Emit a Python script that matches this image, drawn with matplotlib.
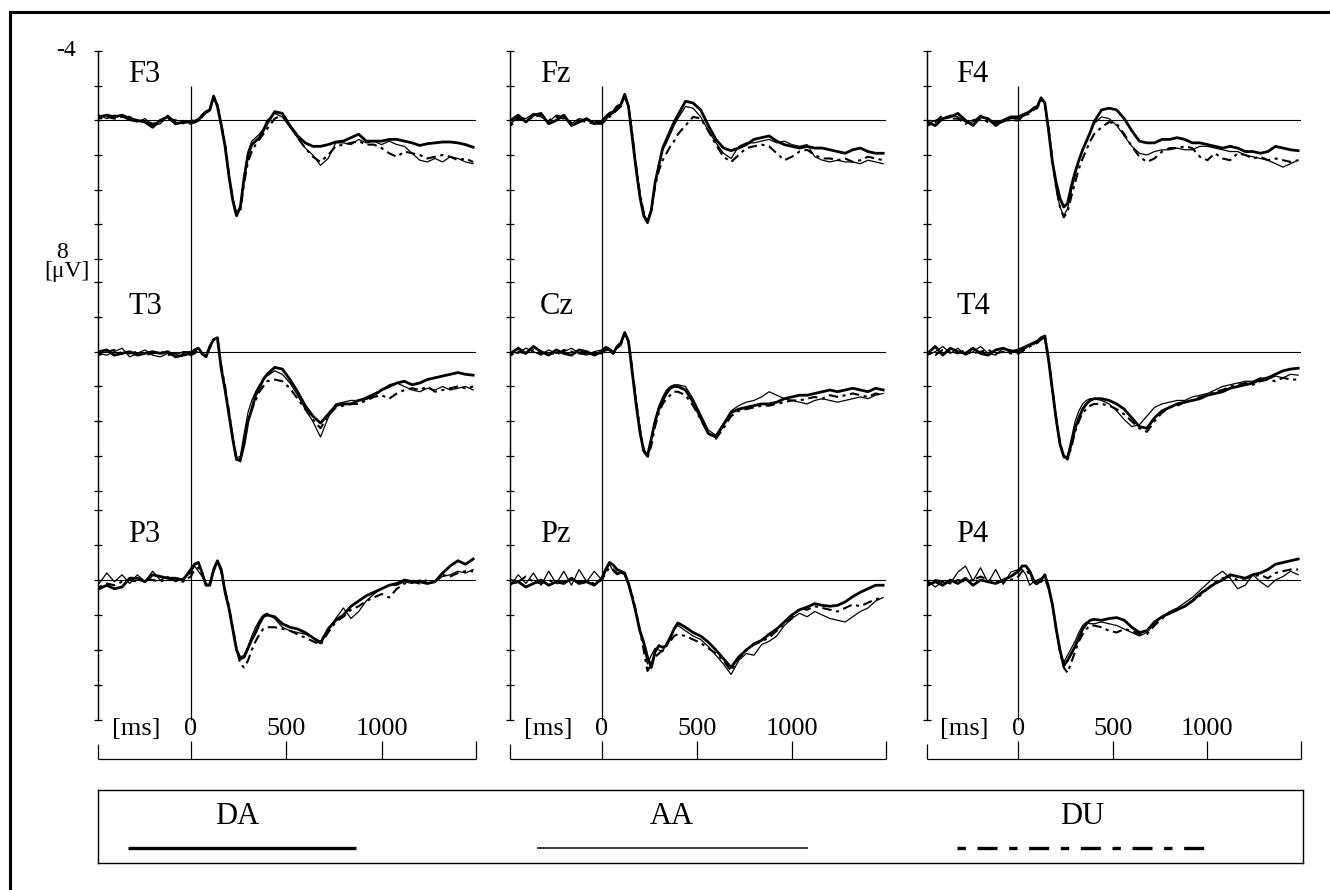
import matplotlib
matplotlib.use("Agg")
import matplotlib.pyplot as plt
from matplotlib.patches import Rectangle

plt.rcParams['font.family'] = ['Liberation Serif', 'DejaVu Serif']

# time axis of every trace [ms]
time_ms = [-480, -440, -400, -360, -320, -280, -240, -200, -160, -120, -80, -40, 0,
           20, 40, 60, 80, 100, 120, 140, 160, 180, 200, 220, 240, 260, 280, 300, 320, 340, 360, 380, 400,
           440, 480, 520, 560, 600, 640, 680, 720, 760, 800, 840, 880, 920, 960, 1000, 1040, 1080,
           1120, 1160, 1200, 1240, 1280, 1320, 1360, 1400, 1440, 1480]

# amplitudes [uV] (negative up)
f3_da = [-0.2, -0.3, -0.2, -0.3, -0.1, 0.0, 0.1, 0.4, 0.0, -0.2, 0.2, 0.1, 0.1,
         0.1, 0.0, -0.3, -0.5, -0.6, -1.4, -0.8, 0.3, 1.5, 3.2, 4.6, 5.5, 5.0, 3.3, 2.0, 1.4, 1.2, 1.0, 0.6, 0.2,
         -0.5, -0.4, 0.3, 0.9, 1.3, 1.5, 1.5, 1.4, 1.25, 1.2, 1.0, 0.8, 1.2, 1.2, 1.2, 1.1, 1.1, 1.2, 1.3, 1.45,
         1.35, 1.3, 1.25, 1.25, 1.3, 1.4, 1.55]
f3_aa = [-0.3, -0.1, -0.3, -0.2, 0.0, 0.1, -0.1, 0.3, 0.2, -0.3, 0.1, 0.2, 0.0,
         0.0, -0.1, -0.2, -0.4, -0.6, -1.3, -0.9, 0.2, 1.4, 3.1, 4.5, 5.4, 5.0, 3.2, 1.8, 1.2, 1.0, 0.8, 0.5, 0.0,
         -0.4, -0.2, 0.4, 1.0, 1.6, 2.0, 2.6, 2.2, 1.3, 1.3, 1.4, 1.1, 1.3, 1.2, 1.4, 1.2, 1.4, 1.5, 1.9, 2.3,
         2.4, 2.2, 2.4, 2.1, 2.2, 2.4, 2.5]
f3_du = [-0.1, -0.2, -0.1, -0.2, -0.2, 0.1, 0.0, 0.2, 0.1, -0.1, 0.0, 0.1, 0.2,
         0.1, 0.0, -0.2, -0.4, -0.6, -1.3, -0.9, 0.2, 1.4, 3.1, 4.5, 5.5, 5.2, 3.6, 2.4, 1.8, 1.4, 1.1, 0.8, 0.5,
         -0.1, -0.3, 0.3, 1.0, 1.6, 2.1, 2.4, 2.0, 1.5, 1.4, 1.3, 1.2, 1.4, 1.4, 1.6, 1.9, 2.1, 1.8, 1.9, 2.0,
         2.2, 2.1, 2.0, 2.1, 2.3, 2.2, 2.4]

fz_da = [0.0, -0.3, 0.1, -0.3, -0.4, 0.2, 0.0, -0.3, 0.3, 0.1, -0.1, 0.2, 0.1,
         -0.2, -0.4, -0.5, -0.8, -0.9, -1.5, -0.8, 1.0, 2.8, 4.4, 5.5, 5.9, 5.2, 3.6, 2.6, 1.6, 1.1, 0.6, 0.1, -0.3,
         -1.1, -1.0, -0.6, 0.3, 1.1, 1.6, 1.75, 1.6, 1.4, 1.1, 1.0, 0.9, 1.2, 1.4, 1.5, 1.6, 1.5, 1.6, 1.6, 1.7,
         1.8, 1.9, 1.7, 1.6, 1.8, 1.9, 1.9]
fz_aa = [0.2, -0.2, -0.1, -0.4, -0.2, 0.1, -0.3, -0.2, 0.2, -0.1, 0.0, 0.1, 0.0,
         0.0, -0.3, -0.4, -0.7, -0.9, -1.5, -0.8, 0.9, 2.7, 4.3, 5.4, 5.8, 5.1, 3.6, 2.5, 1.7, 1.3, 0.8, 0.3, -0.1,
         -0.8, -0.7, -0.2, 0.6, 1.3, 1.9, 2.2, 1.5, 1.3, 1.3, 1.2, 1.1, 1.3, 1.2, 1.4, 1.5, 1.4, 2.1, 2.3, 2.4,
         2.3, 2.4, 2.4, 2.5, 2.3, 2.4, 2.5]
fz_du = [0.3, -0.1, 0.0, -0.2, -0.3, 0.0, -0.2, -0.1, 0.1, 0.0, 0.1, 0.2, 0.2,
         0.0, -0.2, -0.4, -0.6, -0.8, -1.4, -0.8, 0.8, 2.6, 4.2, 5.3, 5.8, 5.2, 3.8, 2.9, 2.3, 1.9, 1.5, 1.2, 0.8,
         0.3, -0.2, -0.1, 0.6, 1.4, 2.1, 2.4, 2.0, 1.6, 1.5, 1.4, 1.5, 1.9, 2.3, 2.1, 1.8, 1.7, 2.0, 2.2, 2.2,
         2.3, 2.2, 2.4, 2.3, 2.1, 2.2, 2.3]

f4_da = [0.1, 0.3, -0.1, -0.2, -0.4, 0.0, 0.3, -0.2, -0.1, 0.3, 0.0, -0.2, -0.2,
         -0.3, -0.4, -0.5, -0.7, -0.8, -1.3, -1.0, 0.6, 2.4, 3.6, 4.5, 5.0, 4.8, 3.8, 3.0, 2.3, 1.7, 1.2, 0.7, 0.1,
         -0.6, -0.7, -0.6, -0.1, 0.6, 1.2, 1.3, 1.3, 1.1, 1.1, 1.0, 1.1, 1.3, 1.3, 1.4, 1.5, 1.6, 1.5, 1.6, 1.8,
         1.8, 1.9, 1.8, 1.5, 1.6, 1.7, 1.75]
f4_aa = [0.2, 0.0, -0.1, -0.3, -0.2, 0.1, 0.1, -0.3, 0.0, 0.2, 0.1, -0.1, -0.1,
         -0.2, -0.3, -0.5, -0.6, -0.8, -1.3, -1.0, 0.6, 2.4, 4.0, 5.0, 5.5, 5.1, 4.1, 3.2, 2.3, 1.7, 1.2, 0.7, 0.2,
         -0.2, -0.1, 0.3, 0.9, 1.5, 1.9, 2.0, 1.8, 1.7, 1.7, 1.6, 1.7, 1.7, 1.5, 1.5, 1.6, 1.7, 1.8, 1.8, 2.0,
         2.1, 2.2, 2.3, 2.5, 2.7, 2.5, 2.3]
f4_du = [0.3, 0.1, -0.3, -0.1, -0.1, 0.2, 0.0, -0.1, 0.1, 0.1, 0.0, 0.0, 0.0,
         -0.2, -0.3, -0.4, -0.6, -0.7, -1.2, -0.9, 0.5, 2.3, 3.9, 5.0, 5.6, 5.3, 4.4, 3.6, 2.8, 2.2, 1.7, 1.2, 0.8,
         0.4, 0.1, 0.2, 0.8, 1.5, 2.1, 2.4, 2.2, 1.8, 1.6, 1.6, 1.5, 1.6, 2.1, 2.3, 1.9, 2.2, 2.3, 1.9, 2.0,
         2.2, 2.1, 2.3, 2.2, 2.3, 2.4, 2.3]

t3_da = [0.0, -0.1, 0.2, 0.1, 0.0, 0.2, 0.1, 0.0, 0.1, 0.0, 0.3, 0.2, 0.1,
         -0.1, -0.2, 0.1, 0.3, -0.3, -0.7, -0.8, 1.0, 2.2, 3.6, 5.0, 6.2, 6.2, 5.3, 4.0, 3.3, 2.5, 2.1, 1.6, 1.3,
         0.9, 1.0, 1.6, 2.3, 3.1, 3.7, 4.1, 3.6, 3.1, 3.0, 3.0, 2.8, 2.7, 2.5, 2.2, 2.0, 1.8, 1.7, 1.9, 1.8,
         1.6, 1.5, 1.4, 1.3, 1.2, 1.3, 1.35]
t3_aa = [0.1, 0.2, 0.0, -0.2, 0.3, 0.1, -0.1, 0.2, 0.3, 0.1, 0.2, 0.0, 0.0,
         0.0, -0.2, 0.2, 0.2, -0.2, -0.7, -0.8, 0.9, 2.1, 3.5, 5.0, 6.1, 6.0, 4.7, 3.5, 2.8, 2.3, 1.9, 1.6, 1.4,
         1.1, 1.3, 1.8, 2.5, 3.3, 4.0, 4.9, 3.8, 3.0, 2.9, 2.8, 2.8, 2.6, 2.4, 2.2, 1.9, 1.8, 2.0, 2.2, 2.3,
         2.1, 2.2, 2.0, 2.2, 2.1, 2.0, 2.2]
t3_du = [0.2, 0.0, -0.1, 0.1, 0.1, 0.0, 0.2, 0.1, 0.0, 0.2, 0.1, 0.1, 0.2,
         0.1, -0.1, 0.1, 0.2, -0.2, -0.7, -0.7, 0.8, 2.0, 3.4, 4.9, 6.2, 6.3, 5.1, 4.0, 3.3, 2.8, 2.3, 2.0, 1.7,
         1.6, 1.7, 2.1, 2.7, 3.3, 3.9, 4.4, 3.7, 3.2, 3.1, 3.0, 3.0, 2.8, 2.6, 2.5, 2.7, 2.4, 2.2, 2.1, 2.2,
         2.0, 2.3, 2.2, 2.1, 2.0, 2.1, 2.0]

cz_da = [0.1, -0.2, 0.1, -0.3, 0.0, 0.2, -0.1, 0.1, 0.2, -0.1, 0.0, 0.2, 0.0,
         -0.2, -0.1, 0.1, -0.3, -0.5, -1.1, -0.6, 1.2, 3.0, 4.6, 5.7, 6.0, 5.0, 4.0, 3.3, 2.8, 2.4, 2.1, 2.0, 2.0,
         2.2, 2.9, 3.8, 4.7, 4.9, 4.2, 3.5, 3.3, 3.2, 3.1, 3.0, 3.0, 2.9, 2.7, 2.6, 2.5, 2.5, 2.4, 2.3, 2.2,
         2.3, 2.2, 2.1, 2.2, 2.3, 2.1, 2.2]
cz_aa = [0.0, 0.1, -0.2, 0.0, 0.2, -0.1, 0.1, 0.0, -0.2, 0.1, 0.2, 0.0, -0.1,
         -0.3, -0.2, 0.0, -0.2, -0.4, -1.0, -0.6, 1.1, 2.9, 4.5, 5.6, 5.9, 5.0, 3.9, 3.1, 2.6, 2.2, 2.0, 1.9, 1.9,
         2.0, 2.7, 3.6, 4.5, 4.8, 4.1, 3.4, 3.1, 2.9, 2.8, 2.6, 2.3, 2.5, 2.7, 2.8, 2.9, 3.0, 2.8, 2.7, 2.8,
         2.9, 2.8, 2.7, 2.6, 2.7, 2.5, 2.4]
cz_du = [0.2, 0.0, 0.1, -0.1, 0.1, 0.0, 0.2, -0.1, 0.0, 0.1, 0.1, 0.1, 0.1,
         -0.1, 0.0, 0.1, -0.2, -0.4, -1.0, -0.6, 1.0, 2.8, 4.4, 5.6, 6.1, 5.4, 4.3, 3.5, 3.0, 2.7, 2.5, 2.3, 2.3,
         2.5, 3.1, 3.9, 4.7, 5.0, 4.4, 3.7, 3.4, 3.3, 3.2, 3.1, 3.1, 3.0, 2.9, 2.8, 2.8, 2.7, 2.6, 2.7, 2.5,
         2.6, 2.5, 2.4, 2.5, 2.6, 2.4, 2.5]

t4_da = [0.1, -0.3, 0.2, -0.2, 0.0, 0.1, -0.2, 0.1, 0.2, -0.1, -0.2, 0.0, -0.1,
         -0.2, -0.3, -0.4, -0.5, -0.6, -0.8, -0.9, 0.5, 2.2, 3.9, 5.3, 6.0, 6.1, 5.3, 4.4, 3.8, 3.3, 3.0, 2.8, 2.7,
         2.7, 2.8, 3.0, 3.3, 3.8, 4.3, 4.4, 3.8, 3.4, 3.2, 3.0, 2.9, 2.8, 2.7, 2.5, 2.4, 2.3, 2.1, 2.0, 1.9,
         1.8, 1.6, 1.5, 1.3, 1.1, 1.0, 0.95]
t4_aa = [0.2, 0.0, -0.3, 0.1, -0.2, 0.2, 0.0, -0.3, 0.1, 0.2, -0.2, -0.1, 0.0,
         -0.1, -0.2, -0.4, -0.4, -0.6, -0.7, -0.8, 0.6, 2.3, 4.0, 5.4, 6.1, 6.0, 5.0, 4.0, 3.4, 3.0, 2.8, 2.7, 2.7,
         2.8, 3.0, 3.4, 3.9, 4.3, 4.2, 3.7, 3.2, 3.0, 2.9, 2.8, 2.8, 2.6, 2.5, 2.4, 2.2, 2.0, 1.9, 1.8, 1.7,
         1.7, 1.5, 1.6, 1.4, 1.5, 1.3, 1.35]
t4_du = [0.1, 0.2, -0.1, 0.0, 0.1, -0.1, 0.1, 0.0, -0.1, 0.1, 0.0, 0.1, 0.1,
         0.0, -0.2, -0.3, -0.4, -0.5, -0.7, -0.8, 0.4, 2.1, 3.8, 5.2, 6.0, 6.2, 5.5, 4.6, 4.0, 3.5, 3.3, 3.1, 3.0,
         3.0, 3.1, 3.3, 3.6, 4.0, 4.4, 4.6, 4.0, 3.5, 3.2, 3.1, 2.9, 2.8, 2.6, 2.5, 2.3, 2.2, 2.0, 1.9, 1.8,
         1.9, 1.7, 1.6, 1.7, 1.5, 1.6, 1.6]

p3_da = [0.5, 0.3, 0.5, 0.4, -0.1, -0.1, 0.1, -0.3, -0.2, -0.1, -0.1, 0.0, -0.6,
         -0.9, -1.0, -0.4, 0.3, 0.3, -0.6, -1.1, -0.6, 0.7, 1.6, 2.8, 4.0, 4.5, 4.4, 3.9, 3.4, 3.0, 2.5, 2.1, 2.0,
         2.1, 2.5, 2.7, 2.8, 3.0, 3.3, 3.6, 2.8, 2.3, 2.0, 1.5, 1.2, 0.9, 0.7, 0.5, 0.3, 0.2, 0.0, 0.1, 0.1,
         0.2, 0.1, -0.4, -0.8, -1.1, -0.9, -1.2]
p3_aa = [0.2, -0.4, 0.1, -0.3, 0.2, -0.3, 0.1, -0.5, 0.0, -0.2, 0.1, -0.1, -0.4,
         -0.8, -0.5, -0.2, 0.2, 0.3, -0.5, -1.0, -0.5, 0.7, 1.6, 2.8, 3.9, 4.4, 4.3, 3.8, 3.2, 2.7, 2.3, 2.0, 1.9,
         2.2, 2.7, 2.9, 3.0, 3.1, 3.3, 3.5, 2.9, 2.2, 1.6, 2.2, 1.8, 1.2, 0.8, 0.5, 0.3, 0.3, 0.1, 0.2, 0.0,
         0.2, 0.1, -0.2, -0.3, -0.5, -0.4, -0.6]
p3_du = [0.4, 0.2, 0.3, 0.1, 0.0, 0.1, -0.1, 0.0, 0.1, -0.1, 0.0, 0.1, -0.2,
         -0.6, -0.7, -0.3, 0.2, 0.2, -0.5, -1.0, -0.5, 0.6, 1.5, 2.7, 3.9, 4.8, 5.0, 4.6, 4.0, 3.5, 3.1, 2.8, 2.7,
         2.7, 2.8, 2.9, 3.1, 3.3, 3.5, 3.7, 3.0, 2.4, 2.1, 1.7, 1.5, 1.2, 1.0, 0.8, 1.0, 0.5, 0.2, 0.1, 0.2,
         0.0, 0.1, -0.3, -0.2, -0.4, -0.5, -0.5]

pz_da = [0.2, 0.1, 0.4, 0.2, 0.0, 0.3, 0.1, 0.2, -0.1, 0.2, 0.1, 0.3, -0.1,
         -0.6, -1.0, -0.85, -0.6, -0.5, -0.4, 0.2, 1.0, 1.9, 2.9, 3.55, 4.4, 5.0, 4.1, 3.75, 3.85, 3.75, 3.3, 2.8, 2.45,
         2.7, 3.0, 3.2, 3.55, 4.0, 4.5, 5.0, 4.4, 4.0, 3.65, 3.45, 3.1, 2.8, 2.4, 2.0, 1.7, 1.55, 1.35, 1.45, 1.5,
         1.45, 1.25, 0.95, 0.7, 0.5, 0.3, 0.3]
pz_aa = [0.3, -0.3, 0.2, -0.4, 0.3, -0.5, 0.2, -0.5, 0.3, -0.6, 0.1, -0.5, 0.0,
         -0.5, -0.9, -0.5, -0.3, -0.4, -0.3, 0.3, 1.0, 1.9, 3.0, 3.7, 4.8, 4.3, 3.9, 4.0, 4.1, 3.6, 3.2, 2.8, 2.6,
         2.9, 3.2, 3.4, 3.8, 4.3, 4.8, 5.4, 4.6, 4.2, 4.3, 3.7, 3.5, 3.2, 2.6, 2.2, 1.9, 2.1, 1.8, 2.0, 2.2,
         2.3, 2.4, 2.1, 1.8, 1.6, 1.2, 1.0]
pz_du = [0.0, 0.1, -0.2, 0.1, 0.2, 0.0, 0.2, 0.1, 0.0, 0.1, 0.1, 0.2, 0.0,
         -0.4, -0.7, -0.6, -0.4, -0.4, -0.3, 0.2, 0.9, 1.8, 2.9, 4.0, 5.2, 4.8, 4.4, 4.2, 4.0, 3.7, 3.5, 3.2, 3.1,
         3.2, 3.4, 3.6, 3.9, 4.2, 4.6, 5.2, 4.5, 4.0, 3.7, 3.5, 3.3, 2.9, 2.5, 2.2, 1.6, 1.7, 1.5, 1.6, 1.7,
         1.8, 1.6, 1.4, 1.5, 1.3, 1.1, 1.0]

p4_da = [0.3, 0.1, 0.3, 0.0, 0.2, -0.1, 0.3, 0.0, 0.1, 0.2, 0.0, -0.2, -0.5,
         -0.8, -0.8, -0.5, 0.0, 0.2, 0.0, -0.3, 0.4, 1.4, 2.8, 4.0, 4.9, 4.6, 4.2, 3.8, 3.3, 2.8, 2.5, 2.3, 2.25,
         2.3, 2.2, 2.15, 2.3, 2.7, 3.0, 2.9, 2.4, 2.1, 1.9, 1.7, 1.5, 1.2, 0.8, 0.5, 0.2, 0.0, -0.3, -0.2, -0.1,
         -0.3, -0.4, -0.6, -0.9, -1.0, -1.1, -1.2]
p4_aa = [0.05, 0.4, 0.1, 0.2, -0.45, -0.8, 0.05, -0.7, 0.15, -0.6, 0.25, -0.45, -0.6,
         -0.6, -0.3, 0.3, 0.1, 0.0, -0.1, -0.2, 0.5, 1.5, 2.9, 4.1, 4.7, 4.3, 3.9, 3.5, 3.0, 2.6, 2.4, 2.5, 2.5,
         2.4, 2.5, 2.6, 2.8, 3.0, 3.2, 3.0, 2.5, 2.1, 1.8, 1.6, 1.3, 1.0, 0.6, 0.2, -0.2, -0.5, -0.1, 0.5, 0.3,
         -0.3, 0.1, 0.4, 0.0, -0.2, -0.5, -0.3]
p4_du = [0.2, 0.0, 0.1, 0.2, 0.0, 0.1, 0.0, -0.2, 0.0, 0.1, 0.1, 0.0, -0.2,
         -0.5, -0.6, -0.3, 0.1, 0.3, 0.1, -0.1, 0.5, 1.4, 2.8, 4.1, 5.0, 5.3, 4.7, 4.1, 3.5, 3.1, 2.8, 2.6, 2.6,
         2.7, 2.9, 3.0, 2.8, 2.9, 3.1, 3.1, 2.6, 2.2, 1.9, 1.7, 1.5, 1.2, 0.9, 0.5, 0.1, -0.1, -0.2, 0.0, -0.1,
         -0.2, -0.3, -0.1, -0.4, -0.5, -0.6, -0.6]

electrodes = [["F3", "Fz", "F4"],
              ["T3", "Cz", "T4"],
              ["P3", "Pz", "P4"]]
conditions = ["DA", "AA", "DU"]
erp = {
    "F3": [f3_da, f3_aa, f3_du], "Fz": [fz_da, fz_aa, fz_du], "F4": [f4_da, f4_aa, f4_du],
    "T3": [t3_da, t3_aa, t3_du], "Cz": [cz_da, cz_aa, cz_du], "T4": [t4_da, t4_aa, t4_du],
    "P3": [p3_da, p3_aa, p3_du], "Pz": [pz_da, pz_aa, pz_du], "P4": [p4_da, p4_aa, p4_du],
}
y_ticks = [-4, -2, 0, 2, 4, 6, 8]
x_ticks = [0, 500, 1000]
x_ticklabels = ["0", "500", "1000"]

# line style for each condition
line_kw = {
    "DA": dict(lw=2.0, ls="-"),
    "AA": dict(lw=0.9, ls="-"),
    "DU": dict(lw=1.5, ls=(0, (1.5, 2.2, 4.5, 2.2))),
}

W, H = 1330, 890
fig = plt.figure(figsize=(W / 100, H / 100), dpi=100)


def px_box(x0, y0, x1, y1):
    # pixel box (top-left origin) -> figure fraction rect
    return [x0 / W, 1 - y1 / H, (x1 - x0) / W, (y1 - y0) / H]


col_px = [(98, 476), (509.5, 886), (926.5, 1301)]
row_px = [(51, 259), (282, 491), (510, 720)]
xlim = (-486, 1495)
axis_bottom = 759
fs_tick = 17
fs_time = 19
fs_name = 22

for c, (x0, x1) in enumerate(col_px):
    # frame axes in pixel units: long y axis, stimulus line, time axis
    fr = fig.add_axes(px_box(x0, row_px[0][0], x1, axis_bottom))
    fr.set_xlim(xlim)
    fr.set_ylim(axis_bottom, row_px[0][0])
    fr.axis("off")
    lk = dict(color="black", lw=0.9, solid_capstyle="butt", clip_on=False)
    fr.plot([xlim[0], xlim[0]], [row_px[0][0], row_px[2][1]], **lk)
    fr.plot([xlim[0], xlim[0]], [744, axis_bottom], **lk)
    fr.plot([0, 0], [row_px[0][0] + (row_px[0][1] - row_px[0][0]) / 6, row_px[2][1]], **lk)
    fr.plot(xlim, [axis_bottom, axis_bottom], **lk)
    for t in [0, 500, 1000, xlim[1]]:
        fr.plot([t, t], [741, axis_bottom], **lk)
    fr.text(-284, 729, "[ms]", ha="center", va="center", fontsize=fs_time)
    for t, lab in zip(x_ticks, x_ticklabels):
        fr.text(t, 729, lab, ha="center", va="center", fontsize=fs_time)

    for r, (y0, y1) in enumerate(row_px):
        name = electrodes[r][c]
        ax = fig.add_axes(px_box(x0, y0, x1, y1))
        ax.patch.set_visible(False)
        ax.set_xlim(xlim)
        ax.set_ylim(8, -4)
        for s in ["top", "right", "bottom"]:
            ax.spines[s].set_visible(False)
        ax.spines["left"].set_linewidth(0.9)
        ax.set_xticks([])
        ax.set_yticks(y_ticks)
        ax.set_yticklabels([])
        ax.tick_params(axis="y", direction="inout", length=6, width=0.9)
        ax.axhline(0, color="black", lw=0.8)
        for cond, vals in zip(conditions, erp[name]):
            ax.plot(time_ms, vals, color="black", **line_kw[cond])
        ax.text(0.08, 0.885, name, transform=ax.transAxes, fontsize=fs_name,
                ha="left", va="center")

# amplitude scale labels
fig.text(66 / W, 1 - 50 / H, "-4", ha="center", va="center", fontsize=fs_tick)
fig.text(62 / W, 1 - 253 / H, "8", ha="center", va="center", fontsize=fs_tick)
fig.text(67 / W, 1 - 272 / H, "[\u03bcV]", ha="center", va="center", fontsize=fs_tick)

# legend box
lg = fig.add_axes(px_box(97.7, 790, 1303, 863))
lg.set_xlim(97.7, 1303)
lg.set_ylim(863, 790)
lg.set_xticks([])
lg.set_yticks([])
for s in lg.spines.values():
    s.set_linewidth(1.0)
legend_text_x = [237, 672, 1082]
legend_line_x = [(128, 356), (537, 808), (957, 1212)]
for cond, tx, (lx0, lx1) in zip(conditions, legend_text_x, legend_line_x):
    lg.text(tx, 817, cond, ha="center", va="center", fontsize=fs_name)
    kw = dict(line_kw[cond])
    if cond == "DU":
        kw = dict(lw=2.4, ls=(0, (2.5, 3.5, 6, 3.5)))
    else:
        kw["lw"] = kw["lw"] * 1.2
    lg.plot([lx0, lx1], [848, 848], color="black", solid_capstyle="butt", **kw)

# outer frame
fig.add_artist(Rectangle((10 / W, -0.05), 1.1, 1.05 - 12 / H, transform=fig.transFigure,
                         fill=False, lw=2.2, edgecolor="black"))

fig.savefig("out.png", dpi=100)
